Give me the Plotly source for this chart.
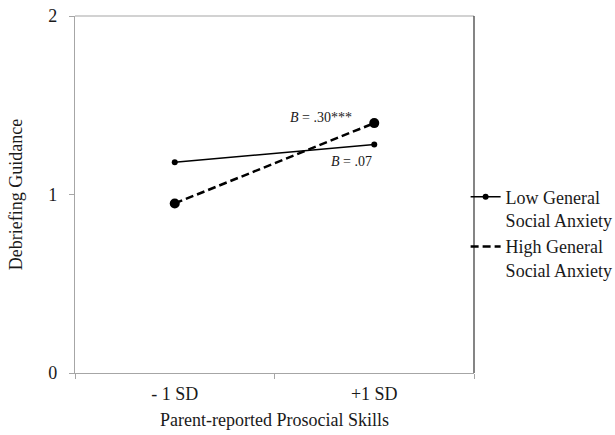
import plotly.graph_objects as go

categories = ["- 1 SD", "+1 SD"]
low_anxiety = [1.18, 1.28]
high_anxiety = [0.95, 1.40]
low_label = "Low General<br>Social Anxiety"
high_label = "High General<br>Social Anxiety"
y_ticks = [0, 1, 2]

FONT = "Liberation Serif, Times New Roman, serif"
AX = "#a6a6a6"
TXT = "#1a1a1a"

fig = go.Figure()
fig.add_trace(go.Scatter(
    x=categories, y=low_anxiety, mode="lines+markers", name=low_label,
    line=dict(color="black", width=1.5), marker=dict(color="black", size=6),
))
fig.add_trace(go.Scatter(
    x=categories, y=high_anxiety, mode="lines", name=high_label,
    line=dict(color="black", width=2.5, dash="8px,4px"),
))
fig.add_trace(go.Scatter(
    x=categories, y=high_anxiety, mode="markers", showlegend=False,
    marker=dict(color="black", size=10),
))

fig.add_annotation(x=1, y=high_anxiety[1], xref="x", yref="y", text="<i>B</i> = .30***",
                   showarrow=False, xanchor="right", xshift=-20, yshift=6,
                   font=dict(family=FONT, size=14, color=TXT))
fig.add_annotation(x=1, y=low_anxiety[1], xref="x", yref="y", text="<i>B</i> = .07",
                   showarrow=False, xanchor="right", xshift=0, yshift=-17,
                   font=dict(family=FONT, size=14, color=TXT))

fig.update_layout(
    width=615, height=435,
    margin=dict(l=75, r=141, t=16, b=62, autoexpand=False),
    paper_bgcolor="white", plot_bgcolor="white",
    font=dict(family=FONT, size=18, color=TXT),
    showlegend=True,
    legend=dict(x=0.979, xanchor="left", y=0.545, yanchor="top", valign="top",
                font=dict(family=FONT, size=18, color=TXT),
                itemwidth=30, tracegroupgap=10, bgcolor="rgba(0,0,0,0)"),
    xaxis=dict(
        type="category", range=[-0.5, 1.5], tickson="boundaries",
        ticks="outside", ticklen=5, tickcolor=AX, showline=True, linecolor=AX,
        linewidth=1.2, showgrid=False, zeroline=False, ticklabelstandoff=4,
        tickfont=dict(family=FONT, size=18),
        title=dict(text="Parent-reported Prosocial Skills", font=dict(family=FONT, size=18), standoff=10),
    ),
    yaxis=dict(
        range=[0, 2], tickvals=y_ticks, ticks="outside", ticklen=5, tickcolor=AX,
        showline=True, linecolor=AX, linewidth=1.2, showgrid=False, zeroline=False,
        ticklabelstandoff=8,
        tickfont=dict(family=FONT, size=18),
        title=dict(text="Debriefing Guidance", font=dict(family=FONT, size=18), standoff=20),
    ),
)
fig.add_shape(type="line", xref="paper", yref="paper", x0=0, x1=1, y0=1, y1=1,
              line=dict(color=AX, width=1.2))
fig.add_shape(type="line", xref="paper", yref="paper", x0=1, x1=1, y0=0, y1=1,
              line=dict(color="#333", width=1.2))

fig.write_html("out.html")
